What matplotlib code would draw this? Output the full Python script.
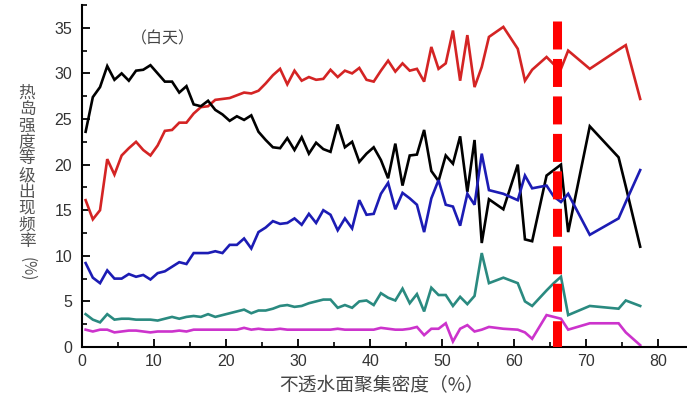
import numpy as np
import matplotlib
matplotlib.use("Agg")
from matplotlib import pyplot as plt
from matplotlib.ticker import MultipleLocator

# impervious surface aggregation density (%)
x = [0.5, 1.5, 2.5, 3.5, 4.5, 5.5, 6.5, 7.5, 8.5, 9.5,
     10.5, 11.5, 12.5, 13.5, 14.5, 15.5, 16.5, 17.5, 18.5, 19.5,
     20.5, 21.5, 22.5, 23.5, 24.5, 25.5, 26.5, 27.5, 28.5, 29.5,
     30.5, 31.5, 32.5, 33.5, 34.5, 35.5, 36.5, 37.5, 38.5, 39.5,
     40.5, 41.5, 42.5, 43.5, 44.5, 45.5, 46.5, 47.5, 48.5, 49.5,
     50.5, 51.5, 52.5, 53.5, 54.5, 55.5, 56.5, 58.5, 60.5, 61.5,
     62.5, 64.5, 65.5, 66.5, 67.5, 70.5, 74.5, 75.5, 77.5]

# frequency of each heat-island intensity level (%)
red = [16.1, 14.0, 15.0, 20.6, 18.9, 21.0, 21.8, 22.5, 21.6, 21.0,
       22.1, 23.7, 23.8, 24.6, 24.6, 25.6, 26.3, 26.4, 27.1, 27.2,
       27.3, 27.6, 27.9, 27.8, 28.1, 28.9, 29.8, 30.5, 28.8, 30.3,
       29.2, 29.6, 29.3, 29.4, 30.4, 29.6, 30.3, 30.0, 30.6, 29.3,
       29.1, 30.3, 31.4, 30.2, 31.1, 30.3, 30.5, 29.1, 32.9, 30.5,
       31.1, 34.7, 29.2, 34.2, 28.5, 30.7, 34.0, 35.1, 32.7, 29.2,
       30.4, 31.8, 31.0, 30.5, 32.5, 30.5, 32.6, 33.1, 27.2]

black = [23.6, 27.4, 28.5, 30.8, 29.3, 30.0, 29.2, 30.3, 30.4, 30.9,
         30.0, 29.1, 29.1, 27.9, 28.6, 26.6, 26.4, 27.0, 26.0, 25.5,
         24.8, 25.3, 24.9, 25.4, 23.6, 22.7, 21.9, 21.8, 22.9, 21.6,
         23.0, 21.2, 22.4, 21.7, 21.4, 24.4, 21.9, 22.5, 20.3, 21.2,
         21.9, 20.5, 18.5, 22.3, 17.7, 21.0, 21.1, 23.8, 19.3, 18.2,
         21.0, 20.1, 23.1, 17.0, 22.7, 11.4, 16.2, 15.1, 20.0, 11.8,
         11.6, 18.8, 19.4, 20.0, 12.6, 24.2, 20.8, 17.6, 11.0]

blue = [9.2, 7.6, 7.0, 8.4, 7.5, 7.5, 8.0, 7.7, 7.9, 7.4,
        8.1, 8.3, 8.8, 9.3, 9.1, 10.3, 10.3, 10.3, 10.5, 10.3,
        11.2, 11.2, 11.9, 10.8, 12.6, 13.1, 13.8, 13.5, 13.6, 14.1,
        13.4, 14.6, 13.6, 15.0, 14.5, 12.8, 14.1, 13.0, 16.1, 14.5,
        14.6, 16.8, 18.0, 15.1, 16.9, 16.3, 15.6, 12.6, 16.3, 18.3,
        15.6, 15.4, 13.3, 16.8, 15.6, 21.2, 17.2, 16.8, 16.1, 18.8,
        17.4, 17.7, 16.5, 15.9, 16.8, 12.3, 14.1, 15.9, 19.4]

teal = [3.6, 3.0, 2.7, 3.6, 3.0, 3.1, 3.1, 3.0, 3.0, 3.0,
        2.9, 3.1, 3.3, 3.1, 3.3, 3.4, 3.3, 3.6, 3.3, 3.5,
        3.7, 3.9, 4.1, 3.7, 4.0, 4.0, 4.2, 4.5, 4.6, 4.4,
        4.5, 4.8, 5.0, 5.2, 5.2, 4.3, 4.6, 4.3, 5.0, 5.1,
        4.6, 5.9, 5.4, 5.1, 6.4, 4.8, 5.8, 3.9, 6.5, 5.7,
        5.7, 4.5, 5.5, 4.7, 5.6, 10.3, 7.0, 7.6, 7.0, 5.0,
        4.5, 6.2, 7.0, 7.7, 3.5, 4.5, 4.2, 5.1, 4.5]

magenta = [1.9, 1.7, 1.9, 1.9, 1.6, 1.7, 1.8, 1.8, 1.7, 1.6,
           1.7, 1.7, 1.7, 1.8, 1.7, 1.9, 1.9, 1.9, 1.9, 1.9,
           1.9, 1.9, 2.1, 1.9, 2.0, 1.9, 1.9, 2.0, 1.9, 1.9,
           1.9, 1.9, 1.9, 1.9, 1.9, 2.0, 1.9, 1.9, 1.9, 1.9,
           1.9, 2.1, 2.0, 1.9, 1.9, 2.0, 2.2, 1.3, 2.0, 2.0,
           2.6, 0.6, 2.0, 2.4, 1.7, 1.9, 2.2, 2.0, 1.9, 1.6,
           0.9, 3.5, 3.3, 3.1, 1.9, 2.6, 2.6, 1.6, 0.2]

threshold = 66
threshold_top = 35.8

series = [(red, "#d42424"), (black, "#000000"), (blue, "#1c1cb4"),
          (teal, "#2a8a80"), (magenta, "#cc33cc")]

fig = plt.figure(figsize=(6.87, 4.04), dpi=100)
ax = fig.add_axes([0.1194, 0.1411, 0.8806, 0.8465])

for ys, c in series:
    ax.plot(x, ys, color=c, lw=1.9, solid_joinstyle="miter")

ax.plot([threshold, threshold], [threshold_top, 0], color="#ff0000", lw=6.5,
        linestyle=(0, (3.1, 1.05)), dash_capstyle="butt", zorder=5)

ax.set_xlim(0, 84)
ax.set_ylim(0, 37.5)
ax.xaxis.set_major_locator(MultipleLocator(10))
ax.xaxis.set_minor_locator(MultipleLocator(5))
ax.yaxis.set_major_locator(MultipleLocator(5))
ax.yaxis.set_minor_locator(MultipleLocator(2.5))

for s in ["top", "right"]:
    ax.spines[s].set_visible(False)
for s in ["left", "bottom"]:
    ax.spines[s].set_linewidth(1.5)

ax.tick_params(which="major", direction="in", length=6, width=1.3,
               labelsize=11.5, labelcolor="#333333", pad=7)
ax.tick_params(which="minor", direction="in", length=3.5, width=1.2)
ax.tick_params(axis="x", which="major", pad=5)
for lab in ax.get_xticklabels() + ax.get_yticklabels():
    lab.set_family("Liberation Sans")

cjk = ["Noto Sans CJK SC", "DejaVu Sans"]
ax.text(11.2, 33.8, "（白天）", family=cjk, fontsize=11.5, color="#444444",
        ha="center", va="center")

fig.text(0.555, 0.045, "不透水面聚集密度（%）", family=cjk, fontsize=13.5,
         color="#444444", ha="center", va="center")

ylabel = "热岛强度等级出现频率"
for i, ch in enumerate(ylabel):
    fig.text(27 / 687, 1 - (93 + 16.5 * i) / 404, ch, family=cjk,
             fontsize=12, color="#555555", ha="center", va="center")
fig.text(27 / 687, 1 - 269 / 404, "(%)", family=cjk, fontsize=11,
         color="#555555", ha="center", va="center", rotation=-90)

fig.savefig("out.png", dpi=100)
